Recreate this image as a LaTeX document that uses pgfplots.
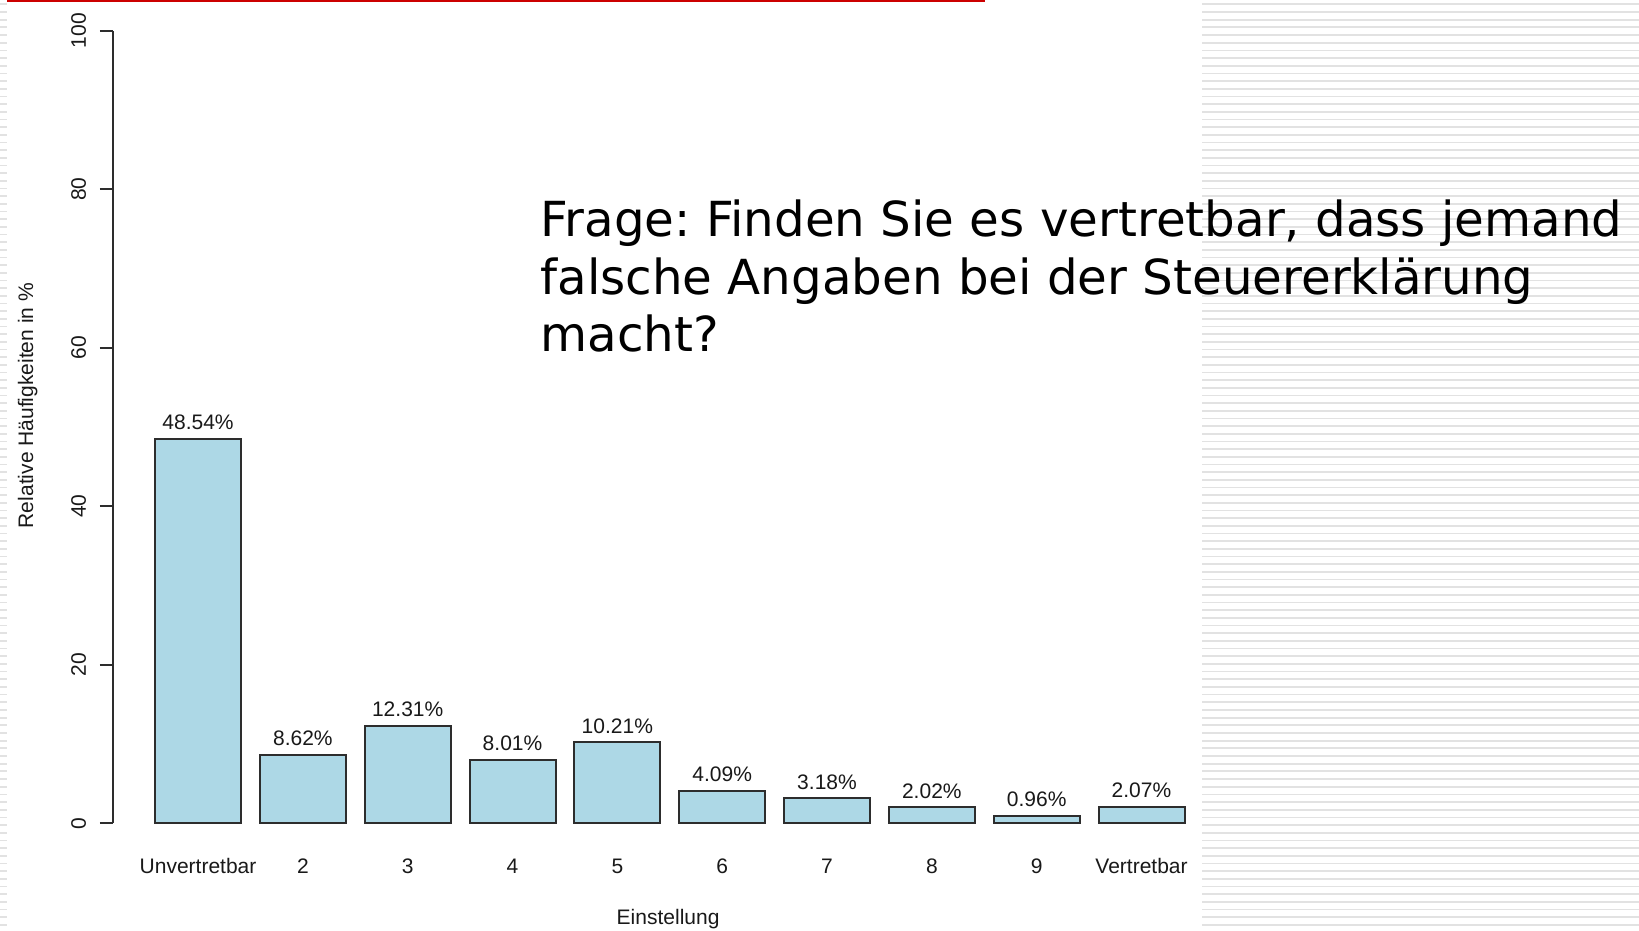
\documentclass[border=0pt]{standalone}
\usepackage{fontspec}
\setmainfont{Liberation Sans}
\newfontfamily\titlefont{DejaVu Sans}
\usepackage{pgfplots}
\pgfplotsset{compat=1.18}
\definecolor{barblue}{RGB}{173,216,230}
\definecolor{axisgrey}{RGB}{45,45,45}
\definecolor{stripe}{RGB}{226,226,226}
\definecolor{slidered}{RGB}{204,0,0}
\frenchspacing

\begin{document}
\begin{tikzpicture}[x=0.5pt,y=0.5pt]
% page in pixel units (1639 x 931), y measured from bottom
\path[use as bounding box, fill=white] (0,0) rectangle (1639,931);
\foreach \k in {0,...,120} {
  \fill[stripe] (1202,{927.5-\k*7.67}) rectangle (1639,{925.8-\k*7.67});
  \fill[stripe] (0,{927.5-\k*7.67}) rectangle (7,{925.8-\k*7.67});
}
\fill[slidered] (7,931) rectangle (985,929.4);
\coordinate (origin) at (113,107.7);

\begin{axis}[
    at={(origin)}, anchor=south west,
    scale only axis, width=556.75pt, height=396.3pt,
    xmin=-0.811, xmax=9.811, ymin=0, ymax=100,
    axis lines=left,
    axis line style={-, axisgrey, line width=1pt},
    x axis line style={draw=none},
    tick align=outside, major tick length=6.5pt,
    ytick={0,20,40,60,80,100},
    ytick style={axisgrey, line width=1pt},
    xtick={0,...,9}, xtick style={draw=none},
    xticklabels={Unvertretbar,2,3,4,5,6,7,8,9,Vertretbar},
    /pgf/number format/assume math mode=true,
    tick label style={font=\fontsize{10.5}{12}\selectfont, text=black!90},
    yticklabel style={rotate=90, anchor=base, inner sep=0pt},
    yticklabel shift=7pt,
    xticklabel style={anchor=base, inner sep=0pt},
    xticklabel shift=18.85pt,
    xlabel={Einstellung},
    xlabel style={at={(axis description cs:0.4985,-0.1283)}, anchor=base, inner sep=0pt, font=\fontsize{10.5}{12}\selectfont, text=black!90},
    ylabel={Relative Häufigkeiten in \%},
    ylabel style={at={(axis description cs:-0.0718,0.527)}, anchor=base, inner sep=0pt, font=\fontsize{10.5}{12}\selectfont, text=black!90},
    ybar, bar width=43pt,
    nodes near coords={\pgfmathprintnumber[fixed,precision=2,fixed zerofill]{\pgfplotspointmeta}\%},
    nodes near coords style={anchor=base, yshift=4.5pt, inner sep=0pt, font=\fontsize{10.5}{12}\selectfont, text=black!90},
    clip=false,
]
\addplot[fill=barblue, draw=axisgrey, line width=1pt] coordinates {
    (0,48.54) (1,8.62) (2,12.31) (3,8.01) (4,10.21)
    (5,4.09) (6,3.18) (7,2.02) (8,0.96) (9,2.07)
};
\end{axis}

% question text overlaid on the slide
\node[anchor=base west, inner sep=0pt, font=\titlefont\fontsize{24.15}{28}\selectfont] at (540,694) {Frage: Finden Sie es vertretbar, dass jemand};
\node[anchor=base west, inner sep=0pt, font=\titlefont\fontsize{24.15}{28}\selectfont] at (540,636.5) {falsche Angaben bei der Steuererklärung};
\node[anchor=base west, inner sep=0pt, font=\titlefont\fontsize{24.15}{28}\selectfont] at (540,579) {macht?};
\end{tikzpicture}
\end{document}
